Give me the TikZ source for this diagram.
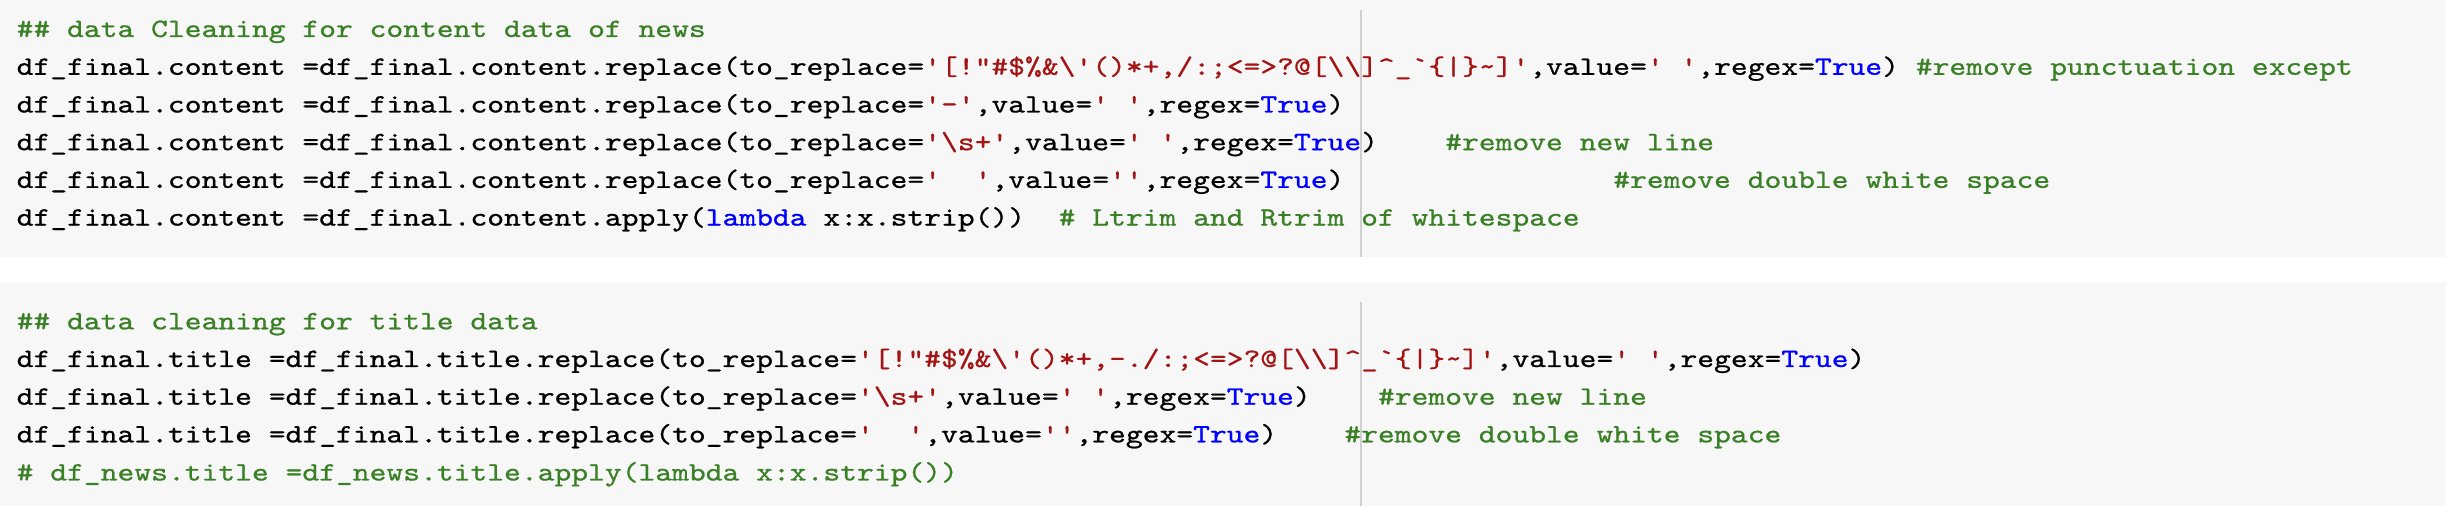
\documentclass[tikz,border=0pt]{standalone}
\usepackage{fontspec}
\newfontfamily\codefont{lmmono10-regular.otf}[FakeStretch=1.208,FakeBold=0.8]
\definecolor{bggray}{HTML}{F7F7F7}
\definecolor{rulec}{HTML}{D0D0D0}
\definecolor{cmt}{RGB}{58,128,38}
\definecolor{strc}{HTML}{A31515}
\definecolor{kwc}{HTML}{0000FF}
\newcommand\cm[1]{\textcolor{cmt}{#1}}
\newcommand\st[1]{\textcolor{strc}{#1}}
\newcommand\kw[1]{\textcolor{kwc}{#1}}
\newlength\charw
\AtBeginDocument{\settowidth{\charw}{\codefont\fontsize{13.25pt}{16pt}\selectfont x}}
\newcommand\spaces[1]{\hspace*{#1\charw}}
\tikzset{
  codeline/.style={anchor=base west, inner sep=0pt, outer sep=0pt, text=black,
    font=\codefont\fontsize{13.25pt}{16pt}\selectfont},
  ruler/.style={draw=rulec, line width=1pt}
}
\begin{document}
\begin{tikzpicture}[x=0.5pt,y=-0.5pt]
\path[use as bounding box] (0,0) rectangle (2446,506);
\fill[white] (0,0) rectangle (2446,506);
\fill[bggray] (0,0) rectangle (2446,257.3);
\fill[bggray] (0,281.7) rectangle (2446,506);
\coordinate (r1a) at (1360.7,10);
\coordinate (r1b) at (1360.7,257.3);
\coordinate (r2a) at (1360.7,302);
\coordinate (r2b) at (1360.7,506);
\draw[ruler] (r1a) -- (r1b);
\draw[ruler] (r2a) -- (r2b);
% first cell
\node[codeline] (a0) at (16.7,37) {\cm{\#\# data Cleaning for content data of news}};
\node[codeline] (a1) at (16.7,74.8) {df\_final.content =df\_final.content.replace(to\_replace=\st{'[!"\#\$\%\&\textbackslash'()*+,/:;<=>?@[\textbackslash\textbackslash]\textasciicircum\_`\{|\}\textasciitilde]'},value=\st{' '},regex=\kw{True}) \cm{\#remove punctuation except}};
\node[codeline] (a2) at (16.7,112.5) {df\_final.content =df\_final.content.replace(to\_replace=\st{'-'},value=\st{' '},regex=\kw{True})};
\node[codeline] (a3) at (16.7,150.2) {df\_final.content =df\_final.content.replace(to\_replace=\st{'\textbackslash s+'},value=\st{' '},regex=\kw{True})\spaces{4}\cm{\#remove new line}};
\node[codeline] (a4) at (16.7,187.9) {df\_final.content =df\_final.content.replace(to\_replace=\st{'\spaces{2}'},value=\st{''},regex=\kw{True})\spaces{16}\cm{\#remove double white space}};
\node[codeline] (a5) at (16.7,225.6) {df\_final.content =df\_final.content.apply(\kw{lambda} x:x.strip())\spaces{2}\cm{\# Ltrim and Rtrim of whitespace}};
% second cell
\node[codeline] (b0) at (16.7,329.3) {\cm{\#\# data cleaning for title data}};
\node[codeline] (b1) at (16.7,367) {df\_final.title =df\_final.title.replace(to\_replace=\st{'[!"\#\$\%\&\textbackslash'()*+,-./:;<=>?@[\textbackslash\textbackslash]\textasciicircum\_`\{|\}\textasciitilde]'},value=\st{' '},regex=\kw{True})};
\node[codeline] (b2) at (16.7,404.7) {df\_final.title =df\_final.title.replace(to\_replace=\st{'\textbackslash s+'},value=\st{' '},regex=\kw{True})\spaces{4}\cm{\#remove new line}};
\node[codeline] (b3) at (16.7,442.4) {df\_final.title =df\_final.title.replace(to\_replace=\st{'\spaces{2}'},value=\st{''},regex=\kw{True})\spaces{4}\cm{\#remove double white space}};
\node[codeline] (b4) at (16.7,480.5) {\cm{\# df\_news.title =df\_news.title.apply(lambda x:x.strip())}};
\end{tikzpicture}
\end{document}
